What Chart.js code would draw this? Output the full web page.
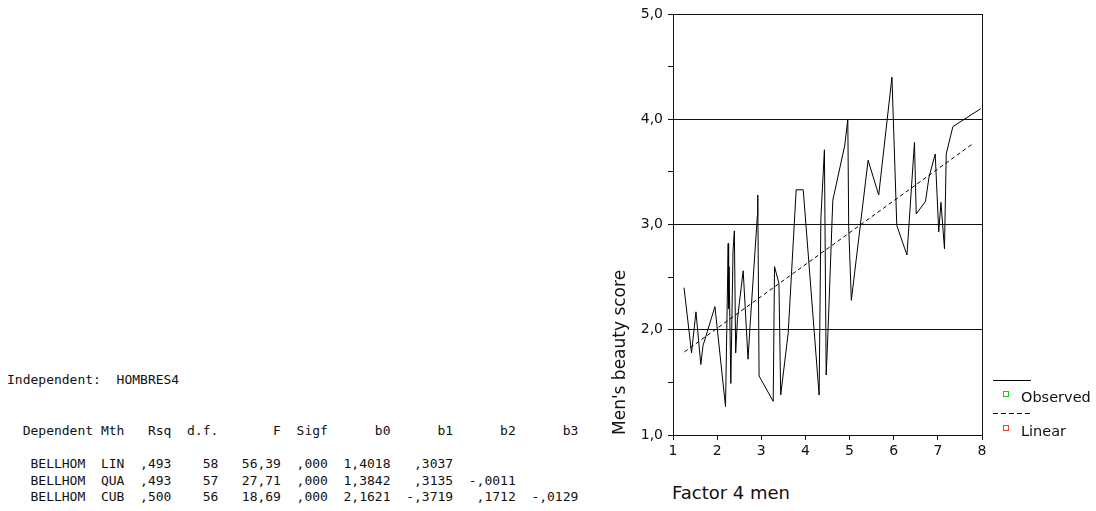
<!DOCTYPE html>
<html>
<head>
<meta charset="utf-8">
<script src="https://cdn.jsdelivr.net/npm/chart.js@4.4.1/dist/chart.umd.min.js"></script>
<style>
  body { margin: 0; background: #fff; width: 1096px; height: 511px; position: relative; overflow: hidden; }
  .mono { position: absolute; margin: 0; font-family: "DejaVu Sans Mono", monospace; font-size: 13px; color: #111; white-space: pre; }
  .lbl { position: absolute; font-family: "DejaVu Sans", sans-serif; color: #111; white-space: nowrap; }
  #chartBox { position: absolute; left: 600px; top: 0; width: 400px; height: 470px; }
</style>
</head>
<body>

<pre class="mono" style="left:7px; top:372px; line-height:16px;">Independent:  HOMBRES4</pre>
<pre class="mono" style="left:7px; top:423px; line-height:16px;">  Dependent Mth   Rsq  d.f.       F  Sigf      b0      b1      b2      b3</pre>
<pre class="mono" style="left:7px; top:456px; line-height:16.6px;" id="rows"></pre>

<div id="chartBox"><canvas id="curveChart" width="400" height="470"></canvas></div>

<div class="lbl" style="left:609px; top:435px; font-size:17px; line-height:20px; transform-origin:0 0; transform:rotate(-90deg);">Men's beauty score</div>
<div class="lbl" style="left:672px; top:483px; font-size:18px; line-height:20px;">Factor 4 men</div>

<!-- legend -->
<div style="position:absolute; left:993px; top:380px; width:38px; height:1px; background:#000;"></div>
<div style="position:absolute; left:1003px; top:391px; width:4px; height:4px; border:1px solid #1c1;"></div>
<div class="lbl" style="left:1021px; top:389px; font-size:14.5px; line-height:16px;" id="legObs"></div>
<div style="position:absolute; left:993px; top:413px; width:38px; height:1px; background:repeating-linear-gradient(to right, #000 0 5px, transparent 5px 8px);"></div>
<div style="position:absolute; left:1003px; top:425px; width:4px; height:4px; border:1px solid #e43;"></div>
<div class="lbl" style="left:1021px; top:423px; font-size:14.5px; line-height:16px;" id="legLin"></div>

<script>
// curve fit table (text output next to the chart)
const tableRows = [
    '   BELLHOM  LIN  ,493    58   56,39  ,000  1,4018   ,3037',
    '   BELLHOM  QUA  ,493    57   27,71  ,000  1,3842   ,3135  -,0011',
    '   BELLHOM  CUB  ,500    56   18,69  ,000  2,1621  -,3719   ,1712  -,0129'
];

// observed series (Factor 4 men -> Men's beauty score)
const obsX = [1.25, 1.42, 1.52, 1.63, 1.68, 1.95, 2.19, 2.25, 2.26, 2.27, 2.31, 2.36, 2.39, 2.42, 2.46,
    2.59, 2.70, 2.74, 2.91, 2.92, 2.95, 3.27, 3.30, 3.40, 3.44, 3.61, 3.79, 3.95, 4.31, 4.35,
    4.43, 4.47, 4.51, 4.62, 4.89, 4.96, 4.98, 5.04, 5.42, 5.66, 5.96, 6.07, 6.30, 6.47, 6.51,
    6.72, 6.80, 6.94, 7.02, 7.07, 7.15, 7.19, 7.34, 7.97];
const obsY = [2.40, 1.78, 2.17, 1.67, 1.85, 2.22, 1.27, 2.82, 2.20, 2.60, 1.49, 2.75, 2.94, 1.78, 2.10,
    2.56, 1.72, 2.00, 3.08, 3.28, 1.56, 1.32, 2.60, 2.44, 1.38, 1.97, 3.33, 3.33, 1.38, 3.06,
    3.71, 1.57, 1.97, 3.23, 3.75, 4.00, 2.98, 2.28, 3.61, 3.28, 4.40, 2.99, 2.71, 3.78, 3.10,
    3.22, 3.45, 3.67, 2.93, 3.21, 2.77, 3.67, 3.93, 4.10];

// linear fit line, end points
const fitX = [1.26, 7.80];
const fitY = [1.79, 3.77];

const seriesNames = ['Observed', 'Linear'];
const yTickValues = [1, 2, 3, 4, 5];
const yTickLabels = ['1,0', '2,0', '3,0', '4,0', '5,0'];
const xTickLabels = ['1', '2', '3', '4', '5', '6', '7', '8'];

document.getElementById('rows').textContent = tableRows.join('\n');
document.getElementById('legObs').textContent = seriesNames[0];
document.getElementById('legLin').textContent = seriesNames[1];

const ctx = document.getElementById('curveChart').getContext('2d');
new Chart(ctx, {
    type: 'line',
    data: {
        datasets: [{
            label: seriesNames[0],
            data: obsX.map((x, i) => ({ x: x, y: obsY[i] })),
            borderColor: '#000',
            borderWidth: 1,
            pointRadius: 0,
            tension: 0
        }, {
            label: seriesNames[1],
            data: fitX.map((x, i) => ({ x: x, y: fitY[i] })),
            borderColor: '#000',
            borderWidth: 1,
            borderDash: [4, 3],
            pointRadius: 0,
            tension: 0
        }]
    },
    options: {
        responsive: false,
        animation: false,
        layout: { padding: { top: 14, right: 18, left: 0, bottom: 0 } },
        plugins: { legend: { display: false }, tooltip: { enabled: false } },
        scales: {
            x: {
                type: 'linear',
                min: 1,
                max: 8,
                afterFit: scale => { scale.height = 35; },
                ticks: {
                    stepSize: 1,
                    padding: 3,
                    color: '#111',
                    font: { family: 'DejaVu Sans', size: 14 },
                    callback: value => xTickLabels[value - 1] ?? ''
                },
                grid: {
                    color: c => (c.tick && c.tick.value === 8) ? '#111' : 'rgba(0,0,0,0)',
                    tickColor: '#111',
                    tickLength: 5
                },
                border: { color: '#111' }
            },
            y: {
                min: 1,
                max: 5,
                afterFit: scale => { scale.width = 73; },
                ticks: {
                    stepSize: 0.5,
                    padding: 5,
                    color: '#111',
                    font: { family: 'DejaVu Sans', size: 14 },
                    callback: value => {
                        const i = yTickValues.indexOf(value);
                        return i >= 0 ? yTickLabels[i] : '';
                    }
                },
                grid: {
                    color: c => (c.tick && Number.isInteger(c.tick.value)) ? '#111' : 'rgba(0,0,0,0)',
                    tickColor: '#111',
                    tickLength: 5
                },
                border: { color: '#111' }
            }
        }
    }
});
</script>
</body>
</html>
